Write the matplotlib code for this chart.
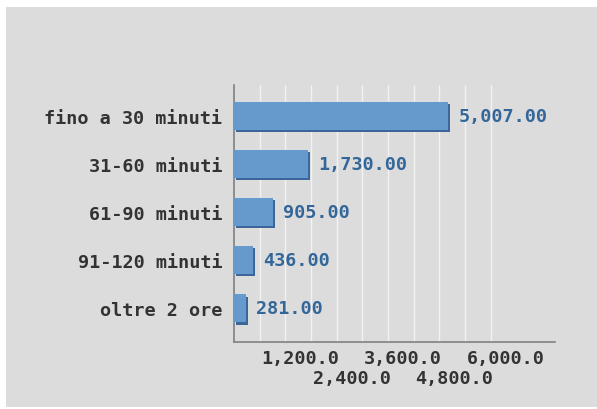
import matplotlib
matplotlib.use('Agg')
import matplotlib.pyplot as plt
import matplotlib.patheffects as pe
from matplotlib.patches import Rectangle
from matplotlib.transforms import blended_transform_factory, ScaledTranslation

# data
categories = ['fino a 30 minuti', '31-60 minuti', '61-90 minuti',
              '91-120 minuti', 'oltre 2 ore']
values = [5007, 1730, 905, 436, 281]
tick_values = [1200, 2400, 3600, 4800, 6000]
grid_values = [600, 1200, 1800, 2400, 3000, 3600, 4200, 4800, 5400, 6000]

bar_color = '#6699cc'
shadow_color = '#3a6699'
label_color = '#336699'
text_color = '#333333'
bg = '#dcdcdc'
fs = 13.3

plt.rcParams['font.family'] = 'DejaVu Sans Mono'
plt.rcParams['font.weight'] = 'bold'

fig = plt.figure(figsize=(5.97, 4.10), dpi=100)
fig.patch.set_facecolor('white')
# grey panel behind everything (white strip on left / top / bottom)
fig.patches.append(Rectangle((6 / 597, 2 / 410), 591 / 597, 400 / 410,
                             transform=fig.transFigure, facecolor=bg,
                             edgecolor='none', zorder=-10))

ax = fig.add_axes([234 / 597, 1 - 342.7 / 410, 321 / 597, 256.7 / 410])
ax.set_facecolor('none')

ypos = list(range(len(categories)))

# vertical grid lines
for g in grid_values:
    ax.axvline(g, color='#f2f2f2', lw=1, zorder=1)

bars = ax.barh(ypos, values, height=0.58, color=bar_color, edgecolor='none',
               zorder=3)
for b in bars:
    b.set_path_effects([pe.SimplePatchShadow(offset=(1.5, -1.5),
                                             shadow_rgbFace=shadow_color,
                                             alpha=1.0),
                        pe.Normal()])

for y, v in zip(ypos, values):
    ax.annotate('{:,.2f}'.format(v), xy=(v, y), xytext=(7.5, 0),
                textcoords='offset points', va='center', ha='left',
                fontsize=fs, color=label_color, zorder=4)

ax.set_xlim(0, 7500)
ax.set_ylim(len(categories) - 1 + 0.69, -0.635)

ax.set_yticks(ypos)
ax.set_yticklabels(categories, fontsize=fs, color=text_color)
ax.tick_params(axis='y', length=0, pad=8.5)
ax.set_xticks([])

# staggered x tick labels
trans = blended_transform_factory(ax.transData, ax.transAxes)
trans = trans + ScaledTranslation(15 / 100, 0, fig.dpi_scale_trans)
for i, t in enumerate(tick_values):
    yy = -0.062 if i % 2 == 0 else -0.14
    ax.text(t, yy, '{:,.1f}'.format(t), transform=trans, ha='center',
            va='center', fontsize=fs, color=text_color)

for s in ['top', 'right']:
    ax.spines[s].set_visible(False)
for s in ['left', 'bottom']:
    ax.spines[s].set_color('#808080')
    ax.spines[s].set_linewidth(1.2)

fig.savefig('out.png', dpi=100, facecolor=fig.get_facecolor())
